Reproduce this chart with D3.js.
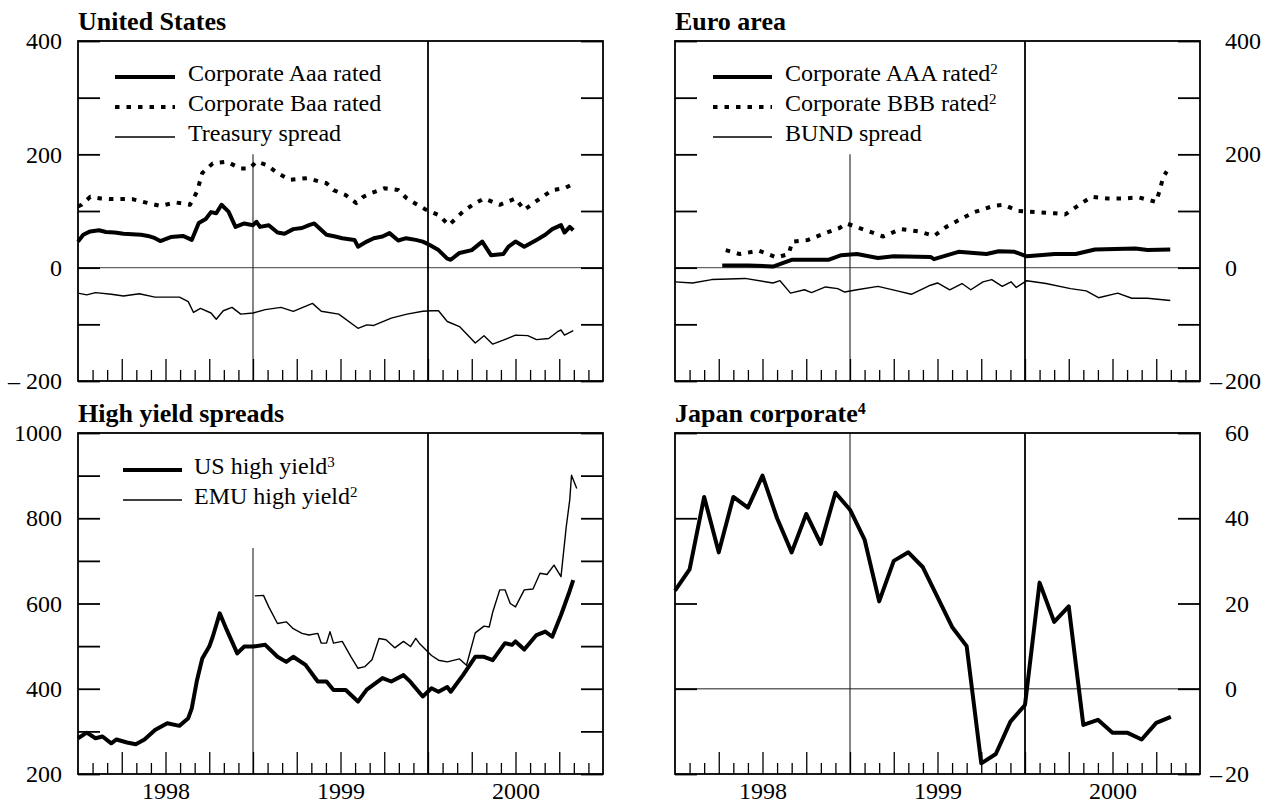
<!DOCTYPE html>
<html>
<head>
<meta charset="utf-8">
<script src="https://cdn.jsdelivr.net/npm/d3@7"></script>
<style>
  body { margin:0; background:#fff; }
  svg text { font-family:"Times New Roman","Liberation Serif",Tinos,"DejaVu Serif",serif; fill:#000; }
  .ttl { font-size:26px; font-weight:700; }
  .tick-lbl text { font-size:24px; }
  .leg { font-size:24px; }
</style>
</head>
<body>
<svg id="chart" width="1288" height="804" font-family="Times New Roman, Liberation Serif, serif"></svg>
<script>
// ---- data (decimal year, basis points) ----
const usAaa = [[1998.00,46],[1998.03,58],[1998.07,64],[1998.12,66],[1998.16,63],[1998.21,62],[1998.26,60],[1998.31,59],
  [1998.36,58],[1998.40,56],[1998.44,52],[1998.47,47],[1998.53,54],[1998.60,56],[1998.65,49],[1998.69,79],[1998.73,86],
  [1998.76,98],[1998.79,96],[1998.82,111],[1998.86,99],[1998.90,72],[1998.95,78],[1999.00,75],[1999.02,81],[1999.04,72],
  [1999.09,75],[1999.14,62],[1999.18,60],[1999.23,68],[1999.28,70],[1999.32,75],[1999.35,78],[1999.42,58],[1999.47,55],
  [1999.51,52],[1999.58,49],[1999.60,37],[1999.65,46],[1999.69,52],[1999.74,55],[1999.78,61],[1999.83,48],[1999.875,52],
  [1999.93,49],[1999.97,46],[2000.01,40],[2000.06,31],[2000.11,16],[2000.13,14],[2000.18,26],[2000.25,31],[2000.31,46],
  [2000.36,22],[2000.43,24],[2000.46,37],[2000.50,46],[2000.55,37],[2000.62,49],[2000.67,58],[2000.71,68],[2000.76,75],
  [2000.78,62],[2000.81,72],[2000.83,66]];
const usBaa = [[1998.00,108],[1998.02,111],[1998.07,125],[1998.13,122],[1998.19,121],[1998.31,121],[1998.40,114],
  [1998.47,109],[1998.56,115],[1998.64,111],[1998.68,134],[1998.71,167],[1998.77,184],[1998.85,187],[1998.93,175],
  [1998.98,175],[1999.02,187],[1999.08,181],[1999.14,167],[1999.21,155],[1999.31,158],[1999.38,152],[1999.42,149],
  [1999.46,137],[1999.53,128],[1999.59,114],[1999.63,125],[1999.67,131],[1999.75,140],[1999.83,137],[1999.88,122],
  [1999.99,102],[2000.06,93],[2000.12,75],[2000.20,99],[2000.26,112],[2000.32,122],[2000.41,111],[2000.50,122],
  [2000.55,102],[2000.64,122],[2000.71,137],[2000.78,140],[2000.83,148]];
const usTreasury = [[1998.00,-45],[1998.05,-48],[1998.10,-44],[1998.19,-47],[1998.26,-50],[1998.35,-46],[1998.44,-52],
  [1998.58,-52],[1998.63,-60],[1998.66,-79],[1998.70,-72],[1998.76,-80],[1998.79,-91],[1998.83,-76],[1998.88,-70],
  [1998.93,-82],[1999.00,-80],[1999.07,-74],[1999.16,-70],[1999.23,-77],[1999.34,-63],[1999.39,-77],[1999.49,-82],
  [1999.60,-107],[1999.65,-101],[1999.69,-102],[1999.79,-89],[1999.88,-82],[1999.97,-77],[2000.02,-76],[2000.06,-76],
  [2000.11,-95],[2000.18,-104],[2000.27,-133],[2000.32,-120],[2000.37,-135],[2000.43,-128],[2000.50,-119],
  [2000.57,-120],[2000.62,-127],[2000.69,-125],[2000.74,-113],[2000.76,-110],[2000.78,-119],[2000.83,-111]];

const euAAA = [[1998.27,4],[1998.42,4],[1998.56,2],[1998.67,14],[1998.88,14],[1998.95,22],[1999.04,24],[1999.16,17],
  [1999.25,20],[1999.46,19],[1999.48,15],[1999.62,28],[1999.78,24],[1999.85,29],[1999.94,28],[2000.01,20],[2000.17,24],
  [2000.29,24],[2000.40,32],[2000.63,34],[2000.70,31],[2000.83,32]];
const euBBB = [[1998.29,31],[1998.37,24],[1998.48,30],[1998.58,18],[1998.65,24],[1998.67,46],[1998.76,49],[1998.86,61],
  [1998.94,70],[1998.98,78],[1999.09,66],[1999.19,55],[1999.29,68],[1999.39,64],[1999.48,56],[1999.55,72],[1999.64,87],
  [1999.71,98],[1999.82,109],[1999.88,111],[1999.96,100],[2000.06,98],[2000.17,96],[2000.23,94],[2000.31,111],
  [2000.38,125],[2000.47,122],[2000.56,122],[2000.65,124],[2000.75,116],[2000.77,137],[2000.79,160],[2000.81,170]];
const euBund = [[1998.00,-25],[1998.10,-27],[1998.21,-21],[1998.40,-19],[1998.56,-27],[1998.60,-23],[1998.66,-45],
  [1998.74,-39],[1998.78,-44],[1998.86,-34],[1998.93,-37],[1998.97,-43],[1999.04,-39],[1999.16,-33],[1999.27,-41],
  [1999.35,-47],[1999.46,-31],[1999.50,-27],[1999.57,-39],[1999.64,-28],[1999.69,-39],[1999.76,-25],[1999.81,-21],
  [1999.87,-33],[1999.92,-25],[1999.95,-35],[2000.01,-23],[2000.12,-28],[2000.26,-37],[2000.35,-41],[2000.42,-53],
  [2000.53,-45],[2000.61,-54],[2000.70,-54],[2000.83,-58]];

const usHighYield = [[1998.00,284],[1998.05,297],[1998.10,284],[1998.14,288],[1998.19,272],[1998.22,281],[1998.28,274],
  [1998.33,270],[1998.38,281],[1998.44,303],[1998.51,319],[1998.58,313],[1998.63,331],[1998.65,354],[1998.68,420],
  [1998.71,471],[1998.75,499],[1998.77,522],[1998.81,577],[1998.85,538],[1998.91,483],[1998.95,499],[1999.00,499],
  [1999.07,503],[1999.14,475],[1999.19,463],[1999.23,475],[1999.30,456],[1999.37,417],[1999.42,417],[1999.46,397],
  [1999.53,397],[1999.60,370],[1999.65,398],[1999.74,425],[1999.79,417],[1999.86,432],[1999.90,416],[1999.97,382],
  [2000.02,401],[2000.06,393],[2000.11,404],[2000.13,393],[2000.20,432],[2000.27,475],[2000.32,475],[2000.37,467],
  [2000.44,507],[2000.48,503],[2000.50,511],[2000.55,492],[2000.62,526],[2000.67,534],[2000.71,522],[2000.76,573],
  [2000.81,630],[2000.83,655]];
const emuHighYield = [[1999.01,618],[1999.06,619],[1999.09,592],[1999.14,553],[1999.19,557],[1999.23,541],[1999.28,530],
  [1999.32,526],[1999.37,530],[1999.39,507],[1999.42,507],[1999.44,534],[1999.46,507],[1999.51,511],[1999.56,475],
  [1999.60,448],[1999.64,452],[1999.68,468],[1999.72,518],[1999.76,515],[1999.81,496],[1999.86,511],[1999.90,499],
  [1999.93,518],[1999.95,507],[2000.02,478],[2000.06,467],[2000.11,463],[2000.18,470],[2000.22,455],[2000.27,531],
  [2000.32,547],[2000.35,545],[2000.37,580],[2000.41,632],[2000.44,632],[2000.47,600],[2000.50,592],[2000.55,632],
  [2000.60,634],[2000.64,671],[2000.68,668],[2000.72,690],[2000.76,663],[2000.79,780],[2000.81,843],[2000.82,901],
  [2000.85,870]];

// Japan corporate, monthly Jan 1998 - Nov 2000
const jpMonths = d3.range(35).map(i => 1998 + i / 12);
const jpCorporate = [23,28,45,32,45,42.5,50,40,32,41,34,46, 42,35,20.5,30,32,28.5,21.5,14.5,10,-17.5,-15.3,-7.7,
  -3.8,24.9,15.7,19.3,-8.5,-7.3,-10.3,-10.3,-11.9,-8,-6.6];

// axis values
const yearLabels = [1998, 1999, 2000];
const monthTicks = d3.range(1, 36).map(m => 1998 + m / 12);

// ---- layout ----
const svg = d3.select("#chart");
const fmtLbl = d => d < 0 ? "\u2013 " + (-d) : String(d);

const panels = [
  { x0:78,  y0:41,  w:525, h:340, title:"United States", sup:"", side:"left", dom:[-200,400],
    labels:[-200,0,200,400], ticks:[-100,100,300], zero:true, thinFrom:200, years:false },
  { x0:675, y0:41,  w:525, h:340, title:"Euro area", sup:"", side:"right", dom:[-200,400],
    labels:[-200,0,200,400], ticks:[-100,100,300], zero:true, thinFrom:200, years:false },
  { x0:78,  y0:433, w:525, h:341, title:"High yield spreads", sup:"", side:"left", dom:[200,1000],
    labels:[200,400,600,800,1000], ticks:[300,500,700,900], zero:false, thinFrom:730, years:true },
  { x0:675, y0:433, w:525, h:341, title:"Japan corporate", sup:"4", side:"right", dom:[-20,60],
    labels:[-20,0,20,40,60], ticks:[], zero:true, thinFrom:60, years:true }
];

function drawPanel(p) {
  const g = svg.append("g").attr("transform", `translate(${p.x0},${p.y0})`);
  const x = d3.scaleLinear().domain([1998, 2001]).range([0, p.w]);
  const y = d3.scaleLinear().domain(p.dom).range([p.h, 0]);

  // title
  const t = svg.append("text").attr("class", "ttl").attr("x", p.x0).attr("y", p.y0 - 11).text(p.title);
  if (p.sup) t.append("tspan").attr("dy", "-0.5em").attr("font-size", "16px").text(p.sup);

  // zero line
  if (p.zero) g.append("line").attr("x1", 0).attr("x2", p.w).attr("y1", y(0)).attr("y2", y(0))
    .attr("stroke", "#666").attr("stroke-width", 1.3);

  // vertical markers Jan 1999 (thin) and Jan 2000 (thick)
  g.append("line").attr("x1", x(1999)).attr("x2", x(1999)).attr("y1", y(p.thinFrom)).attr("y2", p.h)
    .attr("stroke", "#222").attr("stroke-width", 1.1);
  g.append("line").attr("x1", x(2000)).attr("x2", x(2000)).attr("y1", 0).attr("y2", p.h)
    .attr("stroke", "#000").attr("stroke-width", 1.8);

  // inner y ticks on both sides
  const yt = p.labels.concat(p.ticks);
  g.append("g").call(d3.axisLeft(y).tickValues(yt).tickSize(-22).tickFormat(""))
    .call(a => a.select(".domain").remove())
    .selectAll("line").attr("stroke", "#000").attr("stroke-width", 1.8);
  g.append("g").attr("transform", `translate(${p.w},0)`)
    .call(d3.axisRight(y).tickValues(yt).tickSize(-22).tickFormat(""))
    .call(a => a.select(".domain").remove())
    .selectAll("line").attr("stroke", "#000").attr("stroke-width", 1.8);

  // y labels
  if (p.side === "left") {
    g.append("g").attr("class", "tick-lbl")
      .call(d3.axisLeft(y).tickValues(p.labels).tickSize(0).tickPadding(16).tickFormat(fmtLbl))
      .call(a => a.select(".domain").remove())
      .attr("font-family", null).attr("font-size", null)
      .selectAll("text").attr("fill", "#000");
  } else {
    const lg = g.append("g").attr("class", "tick-lbl");
    lg.selectAll("text.num").data(p.labels).join("text").attr("class", "num")
      .attr("x", p.w + 25).attr("y", d => y(d)).attr("dy", "0.34em").text(d => Math.abs(d));
    lg.selectAll("text.neg").data(p.labels.filter(d => d < 0)).join("text").attr("class", "neg")
      .attr("x", p.w + 22).attr("y", d => y(d)).attr("dy", "0.34em").attr("text-anchor", "end").text("\u2013");
  }

  // month ticks along the bottom
  const minor = monthTicks.filter((d, i) => (i + 1) % 3 !== 0);
  const major = monthTicks.filter((d, i) => (i + 1) % 3 === 0);
  g.append("g").attr("transform", `translate(0,${p.h})`)
    .call(d3.axisBottom(x).tickValues(minor).tickSize(-11).tickFormat(""))
    .call(a => a.select(".domain").remove())
    .selectAll("line").attr("stroke", "#000").attr("stroke-width", 1.3);
  g.append("g").attr("transform", `translate(0,${p.h})`)
    .call(d3.axisBottom(x).tickValues(major).tickSize(-22).tickFormat(""))
    .call(a => a.select(".domain").remove())
    .selectAll("line").attr("stroke", "#000").attr("stroke-width", 1.3);

  if (p.years) {
    g.append("g").attr("class", "tick-lbl").attr("transform", `translate(0,${p.h})`)
      .call(d3.axisBottom(x).tickValues(yearLabels.map(v => v + 0.5)).tickSize(0).tickPadding(8)
        .tickFormat(d => Math.floor(d)))
      .call(a => a.select(".domain").remove())
      .attr("font-family", null).attr("font-size", null)
      .selectAll("text").attr("fill", "#000");
  }

  // frame
  g.append("rect").attr("width", p.w).attr("height", p.h)
    .attr("fill", "none").attr("stroke", "#000").attr("stroke-width", 1.8);

  return { g, x, y };
}

const line = (x, y) => d3.line().x(d => x(d[0])).y(d => y(d[1]));

function series(pc, data, kind) {
  const path = pc.g.append("path").datum(data).attr("fill", "none").attr("stroke", "#000")
    .attr("stroke-linejoin", "round").attr("d", line(pc.x, pc.y));
  if (kind === "thick") path.attr("stroke-width", 4);
  else if (kind === "dot") path.attr("stroke-width", 4).attr("stroke-dasharray", "4.5,7");
  else path.attr("stroke-width", 1.4);
}

function legend(p, items, lx1, lx2, tx, ys) {
  items.forEach((it, i) => {
    const yy = p.y0 + ys[i];
    const l = svg.append("line").attr("x1", p.x0 + lx1).attr("x2", p.x0 + lx2).attr("y1", yy).attr("y2", yy)
      .attr("stroke", "#000");
    if (it.kind === "thick") l.attr("stroke-width", 4);
    else if (it.kind === "dot") l.attr("stroke-width", 4).attr("stroke-dasharray", "4.5,7");
    else l.attr("stroke-width", 1.4);
    const tx_ = svg.append("text").attr("class", "leg").attr("x", p.x0 + tx).attr("y", yy + 4).text(it.label);
    if (it.sup) tx_.append("tspan").attr("dy", "-0.5em").attr("font-size", "15px").text(it.sup);
  });
}

// US
const pUS = drawPanel(panels[0]);
series(pUS, usTreasury, "thin");
series(pUS, usBaa, "dot");
series(pUS, usAaa, "thick");
legend(panels[0], [
  { label:"Corporate Aaa rated", kind:"thick" },
  { label:"Corporate Baa rated", kind:"dot" },
  { label:"Treasury spread", kind:"thin" }], 37, 97, 110, [36, 66, 96]);

// Euro
const pEU = drawPanel(panels[1]);
series(pEU, euBund, "thin");
series(pEU, euBBB, "dot");
series(pEU, euAAA, "thick");
legend(panels[1], [
  { label:"Corporate AAA rated", sup:"2", kind:"thick" },
  { label:"Corporate BBB rated", sup:"2", kind:"dot" },
  { label:"BUND spread", kind:"thin" }], 38, 97, 110, [36, 66, 96]);

// High yield
const pHY = drawPanel(panels[2]);
series(pHY, emuHighYield, "thin");
series(pHY, usHighYield, "thick");
legend(panels[2], [
  { label:"US high yield", sup:"3", kind:"thick" },
  { label:"EMU high yield", sup:"2", kind:"thin" }], 45, 104, 116, [37, 67]);

// Japan
const pJP = drawPanel(panels[3]);
series(pJP, jpMonths.map((m, i) => [m, jpCorporate[i]]), "thick");
</script>
</body>
</html>
